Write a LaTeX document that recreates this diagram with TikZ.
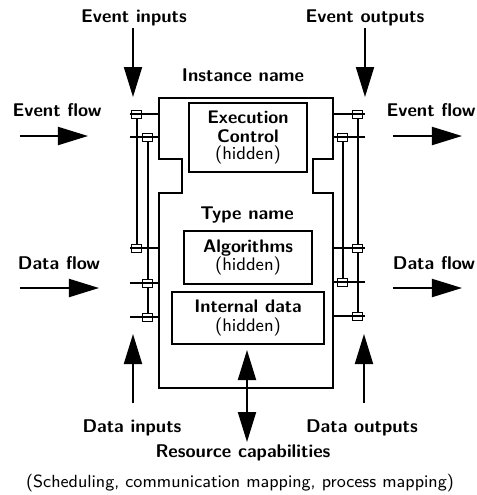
\documentclass[tikz,border=0pt]{standalone}
\usetikzlibrary{arrows.meta}
\begin{document}
\begin{tikzpicture}[x=0.5pt,y=-0.5pt,
  font=\fontsize{9.1}{9.6}\selectfont\sffamily,
  lbl/.style={font=\fontsize{9.2}{10}\selectfont\sffamily\bfseries, inner sep=0pt},
  note/.style={font=\fontsize{8.8}{10}\selectfont\sffamily, inner sep=0pt},
  outline/.style={line width=1pt, line join=miter},
  inner/.style={draw, line width=0.65pt, inner sep=0pt, align=center},
  wire/.style={line width=1pt},
  pin/.style={draw, line width=0.5pt, minimum width=5pt, minimum height=4pt, inner sep=0pt},
  flow/.style={line width=1pt, -{Triangle[length=15pt,width=9pt]}},
  both/.style={line width=1pt, {Triangle[length=15pt,width=9pt]}-{Triangle[length=15pt,width=9pt]}}]
\useasboundingbox (0,0) rectangle (477,495);

% function block outline: head (execution control) and body (type)
\draw[outline] (159,98) -- (333,98) -- (333,159) -- (313,159) -- (313,193)
  -- (333,193) -- (333,388) -- (159,388) -- (159,193) -- (182,193)
  -- (182,159) -- (159,159) -- cycle;

% hidden internals
\node[inner, minimum width=59pt, minimum height=34.5pt] (ecc) at (248,137.5)
  {\bfseries Execution\\[0pt]\bfseries Control\\[-1pt](hidden)};
\node[inner, minimum width=64pt, minimum height=26.5pt] (alg) at (248,257.5)
  {\bfseries Algorithms\\[-0.5pt](hidden)};
\node[inner, minimum width=76pt, minimum height=26pt] (idata) at (248,318)
  {\bfseries Internal data\\[-0.5pt](hidden)};

\node[lbl] (inst) at (243,75) {Instance name};
\node[lbl] (type) at (247,215) {Type name};

% left-side interface ends
\coordinate (le1a) at (130,114); \coordinate (le1b) at (159,114);
\coordinate (le2a) at (130,137); \coordinate (le2b) at (159,137);
\coordinate (ld1a) at (130,248); \coordinate (ld1b) at (159,248);
\coordinate (ld2a) at (130,283); \coordinate (ld2b) at (159,283);
\coordinate (ld3a) at (130,317); \coordinate (ld3b) at (159,317);
% right-side interface ends
\coordinate (re1a) at (333,114); \coordinate (re1b) at (365,114);
\coordinate (re2a) at (333,137); \coordinate (re2b) at (365,137);
\coordinate (rd1a) at (333,248); \coordinate (rd1b) at (365,248);
\coordinate (rd2a) at (333,282); \coordinate (rd2b) at (365,282);
\coordinate (rd3a) at (333,316); \coordinate (rd3b) at (365,316);

\draw[wire] (le1a) -- (le1b);
\draw[wire] (le2a) -- (le2b);
\draw[wire] (ld1a) -- (ld1b);
\draw[wire] (ld2a) -- (ld2b);
\draw[wire] (ld3a) -- (ld3b);
\draw[wire] (re1a) -- (re1b);
\draw[wire] (re2a) -- (re2b);
\draw[wire] (rd1a) -- (rd1b);
\draw[wire] (rd2a) -- (rd2b);
\draw[wire] (rd3a) -- (rd3b);

% event/data associations (WITH qualifiers)
\node[pin] (pe1) at (137,114) {};
\node[pin] (pe2) at (148,137) {};
\node[pin] (pd1) at (137,248) {};
\node[pin] (pd2) at (148,283) {};
\node[pin] (pd3) at (148,317) {};
\node[pin] (qe1) at (358,114) {};
\node[pin] (qe2) at (343,137) {};
\node[pin] (qd1) at (358,248) {};
\node[pin] (qd2) at (343,282) {};
\node[pin] (qd3) at (358,316) {};

\draw[wire] (pe1.south) -- (pd1.north);
\draw[wire] (pe2.south) -- (pd2.north);
\draw[wire] (pd2.south) -- (pd3.north);
\draw[wire] (qe1.south) -- (qd1.north);
\draw[wire] (qd1.south) -- (qd3.north);
\draw[wire] (qe2.south) -- (qd2.north);

% labels
\node[lbl] (tin) at (134,18) {Event inputs};
\node[lbl] (tout) at (365,18) {Event outputs};
\node[lbl] (tefl) at (57,110) {Event flow};
\node[lbl] (tefr) at (431,110) {Event flow};
\node[lbl] (tdfl) at (59,263) {Data flow};
\node[lbl] (tdfr) at (434,263) {Data flow};
\node[lbl] (tdin) at (132,428) {Data inputs};
\node[lbl] (tdout) at (362,428) {Data outputs};
\node[lbl] (tres) at (243,453) {Resource capabilities};
\node[note] (tmap) at (240,483) {(Scheduling, communication mapping, process mapping)};

% arrows
\coordinate (a1s) at (133,28);  \coordinate (a1e) at (133,97);
\coordinate (a2s) at (365,28);  \coordinate (a2e) at (365,97);
\coordinate (a3s) at (20,136);  \coordinate (a3e) at (88,136);
\coordinate (a4s) at (393,136); \coordinate (a4e) at (462,136);
\coordinate (a5s) at (20,288);  \coordinate (a5e) at (99,288);
\coordinate (a6s) at (393,288); \coordinate (a6e) at (462,288);
\coordinate (a7s) at (133,403); \coordinate (a7e) at (133,334);
\coordinate (a8s) at (364,403); \coordinate (a8e) at (364,334);
\coordinate (a9s) at (247,350); \coordinate (a9e) at (247,442);

\draw[flow] (a1s) -- (a1e);
\draw[flow] (a2s) -- (a2e);
\draw[flow] (a3s) -- (a3e);
\draw[flow] (a4s) -- (a4e);
\draw[flow] (a5s) -- (a5e);
\draw[flow] (a6s) -- (a6e);
\draw[flow] (a7s) -- (a7e);
\draw[flow] (a8s) -- (a8e);
\draw[both] (a9s) -- (a9e);
\end{tikzpicture}
\end{document}
